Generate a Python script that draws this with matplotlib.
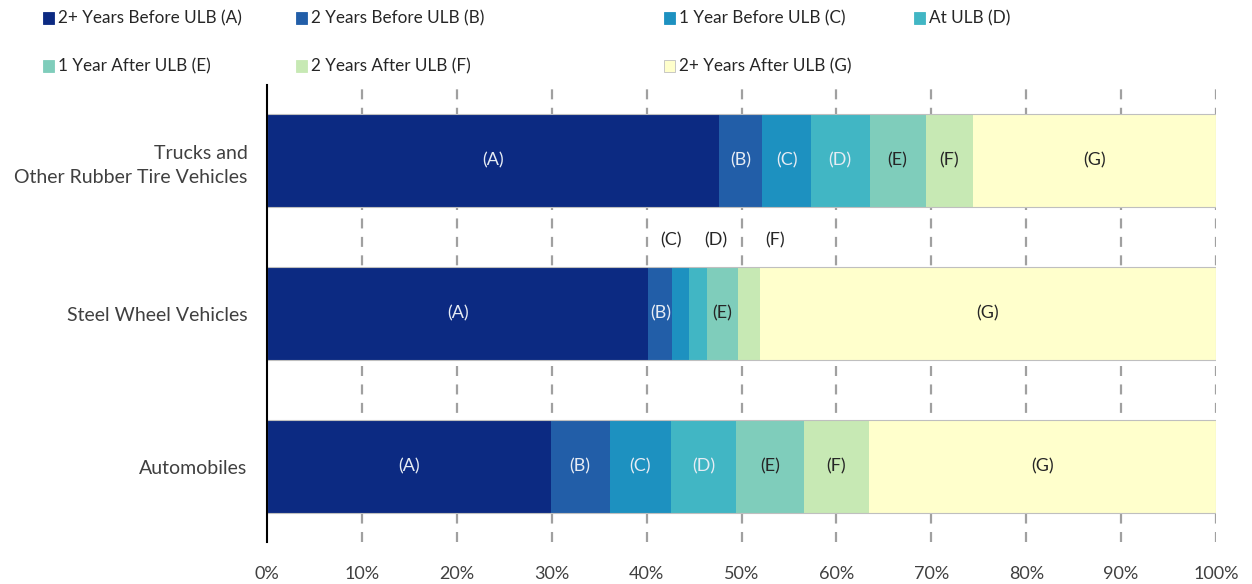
import matplotlib
matplotlib.use('agg')
import matplotlib.pyplot as plt
from matplotlib.patches import Rectangle
import numpy as np

plt.rcParams['font.family'] = ['Lato', 'DejaVu Sans']

# data: share of vehicles (%) by ULB status
categories = ['Trucks and\nOther Rubber Tire Vehicles', 'Steel Wheel Vehicles', 'Automobiles']
series_names = ['2+ Years Before ULB (A)', '2 Years Before ULB (B)', '1 Year Before ULB (C)',
                'At ULB (D)', '1 Year After ULB (E)', '2 Years After ULB (F)',
                '2+ Years After ULB (G)']
short_labels = ['(A)', '(B)', '(C)', '(D)', '(E)', '(F)', '(G)']
trucks = [47.6, 4.6, 5.1, 6.2, 5.9, 5.0, 25.6]
steel = [40.2, 2.5, 1.8, 1.9, 3.2, 2.3, 48.1]
autos = [29.9, 6.2, 6.5, 6.8, 7.2, 6.8, 36.6]

colors = ['#0c2a82', '#225ea8', '#1d91c0', '#41b6c4', '#7fcdbb', '#c7e9b4', '#ffffcc']
text_colors = ['#e6ecf4', '#e6ecf4', '#e6ecf4', '#e6ecf4', '#262626', '#262626', '#262626']

# labels of narrow steel-wheel segments go above the bar (offset in % from segment centre)
steel_above = {2: -1.0, 3: 1.85, 5: 2.75}

values = np.array([trucks, steel, autos])
ypos = np.array([2, 1, 0])
bar_h = 0.606

fig = plt.figure(figsize=(12.52, 5.84), dpi=100)
ax = fig.add_axes([267 / 1252, 1 - 542 / 584, 949 / 1252, 457 / 584])

left = np.zeros(len(categories))
for j in range(len(series_names)):
    ax.barh(ypos, values[:, j], left=left, height=bar_h, color=colors[j],
            linewidth=0, zorder=3)
    for i in range(len(categories)):
        cx = left[i] + values[i, j] / 2
        if i == 1 and j in steel_above:
            ax.text(cx + steel_above[j], ypos[i] + 0.48, short_labels[j], ha='center',
                    va='center', fontsize=13, color='#262626', zorder=4)
        else:
            ax.text(cx, ypos[i], short_labels[j], ha='center', va='center',
                    fontsize=13, color=text_colors[j], zorder=4)
    left += values[:, j]

# thin grey outline round each stacked bar
ax.barh(ypos, values.sum(axis=1), height=bar_h, fill=False, edgecolor='#bfbfbf',
        linewidth=0.8, zorder=3.5)

ax.set_xlim(0, 100)
ax.set_ylim(-0.49, 2.49)
ax.set_xticks(np.arange(0, 101, 10))
ax.set_xticklabels([f'{t}%' for t in range(0, 101, 10)])
ax.set_yticks(ypos)
ax.set_yticklabels(categories, linespacing=1.5)
ax.tick_params(axis='both', length=0, labelcolor='#404040')
ax.tick_params(axis='x', pad=17, labelsize=13)
ax.tick_params(axis='y', pad=14, labelsize=14)

for x in range(10, 101, 10):
    ax.axvline(x, color='#a0a0a0', linewidth=1.6, dashes=(4.5, 3.8), zorder=1)

for s in ['top', 'right', 'bottom']:
    ax.spines[s].set_visible(False)
ax.spines['left'].set_color('black')
ax.spines['left'].set_linewidth(1.5)
ax.spines['left'].set_zorder(5)

# legend laid out by hand to mimic the original spacing
leg_x = [43, 296, 664, 914, 43, 296, 664]
leg_y = [18, 18, 18, 18, 66, 66, 66]
for j, name in enumerate(series_names):
    x0 = leg_x[j] / 1252
    y0 = 1 - leg_y[j] / 584
    fig.patches.append(Rectangle((x0, y0 - 5.5 / 584), 11 / 1252, 11 / 584,
                                 transform=fig.transFigure, facecolor=colors[j],
                                 edgecolor='#bfbfbf' if j == 6 else colors[j],
                                 linewidth=0.6))
    fig.text(x0 + 15 / 1252, y0, name, ha='left', va='center', fontsize=12.3,
             color='#262626')

fig.savefig('out.png', dpi=100)
